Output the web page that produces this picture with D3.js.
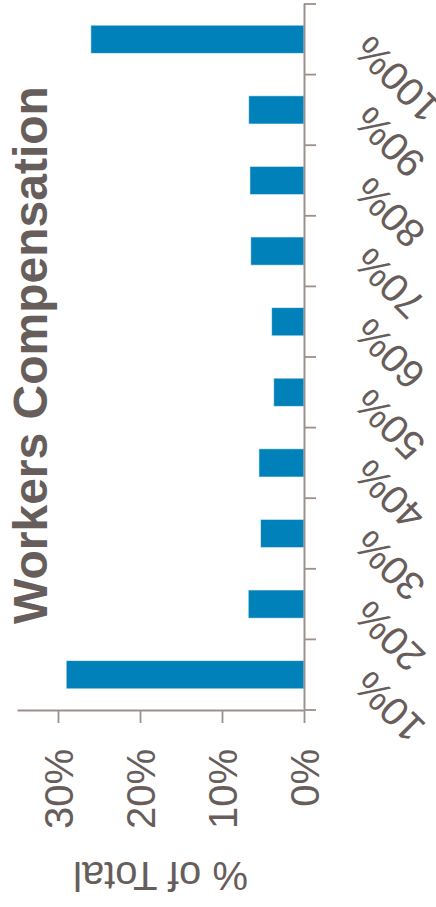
<!DOCTYPE html>
<html>
<head>
<meta charset="utf-8">
<script src="https://cdn.jsdelivr.net/npm/d3@7/dist/d3.min.js"></script>
<style>
  html, body { margin: 0; padding: 0; background: #ffffff; }
  svg { display: block; }
  text { font-family: "Liberation Sans", Arial, Helvetica, sans-serif; }
</style>
</head>
<body>
<svg id="chart" width="436" height="907"></svg>
<script>
// Share of total by percentile bucket
const categories = ["10%", "20%", "30%", "40%", "50%", "60%", "70%", "80%", "90%", "100%"];
const shares = [0.290, 0.068, 0.053, 0.055, 0.037, 0.0395, 0.065, 0.066, 0.0675, 0.260];
const valueTicks = [0, 0.10, 0.20, 0.30];

const titleText = "Workers Compensation";
const yTitleText = "% of Total";

const textColor = "#675d5b";
const axisColor = "#9b908d";
const barColor = "#0081b9";

// The chart is laid out in a landscape frame and turned a quarter turn
const W = 907, H = 436;
const svg = d3.select("#chart");
const g = svg.append("g").attr("transform", `translate(0,${W}) rotate(-90)`);

const x = d3.scaleBand()
  .domain(categories)
  .range([197, 903])
  .paddingInner(0.6)
  .paddingOuter(0.3);

const y = d3.scaleLinear()
  .domain([0, 0.35])
  .range([304, 17]);

// Bars
g.append("g")
  .selectAll("rect")
  .data(categories.map((c, i) => ({ c, v: shares[i] })))
  .join("rect")
  .attr("x", d => x(d.c))
  .attr("y", d => y(d.v))
  .attr("width", x.bandwidth())
  .attr("height", d => y(0) - y(d.v))
  .attr("fill", barColor)
  .attr("stroke", "#ffffff")
  .attr("stroke-opacity", 0.6)
  .attr("stroke-width", 1);

// Category axis: labels at band centres, tick marks on band boundaries
const xAxis = g.append("g")
  .attr("transform", `translate(0,${y(0)})`)
  .call(d3.axisBottom(x).tickSize(0).tickPadding(0).tickSizeOuter(0));
xAxis.select(".domain").attr("stroke", axisColor).attr("stroke-width", 2);
xAxis.selectAll(".tick text")
  .attr("y", 0)
  .attr("dy", 0)
  .attr("fill", textColor)
  .attr("font-size", 40)
  .attr("text-anchor", "end")
  .attr("transform", "translate(6,67) rotate(-45)");

const step = x.step();
const boundaries = categories.map(c => x(c) + x.bandwidth() / 2 - step / 2)
  .concat([x(categories[categories.length - 1]) + x.bandwidth() / 2 + step / 2]);
xAxis.selectAll("line.boundary")
  .data(boundaries)
  .join("line")
  .attr("class", "boundary")
  .attr("x1", d => d).attr("x2", d => d)
  .attr("y1", 0).attr("y2", 12)
  .attr("stroke", axisColor)
  .attr("stroke-width", 1.8);

// Value axis
const yAxis = g.append("g")
  .attr("transform", `translate(196,0)`)
  .call(d3.axisLeft(y).tickValues(valueTicks).tickFormat(d3.format(".0%"))
    .tickSize(12).tickPadding(26).tickSizeOuter(0));
yAxis.select(".domain").attr("stroke", axisColor).attr("stroke-width", 2);
yAxis.selectAll(".tick line").attr("stroke", axisColor).attr("stroke-width", 1.8);
yAxis.selectAll(".tick text")
  .attr("fill", textColor)
  .attr("font-size", 40)
  .attr("dy", "0.35em");

// Value axis title
g.append("text")
  .attr("transform", `translate(45,${(y(0) + y(0.35)) / 2}) rotate(-90)`)
  .attr("text-anchor", "middle")
  .attr("fill", textColor)
  .attr("font-size", 40)
  .text(yTitleText);

// Chart title
g.append("text")
  .attr("x", 552)
  .attr("y", 47)
  .attr("text-anchor", "middle")
  .attr("fill", textColor)
  .attr("font-size", 48)
  .attr("font-weight", "bold")
  .text(titleText);
</script>
</body>
</html>
